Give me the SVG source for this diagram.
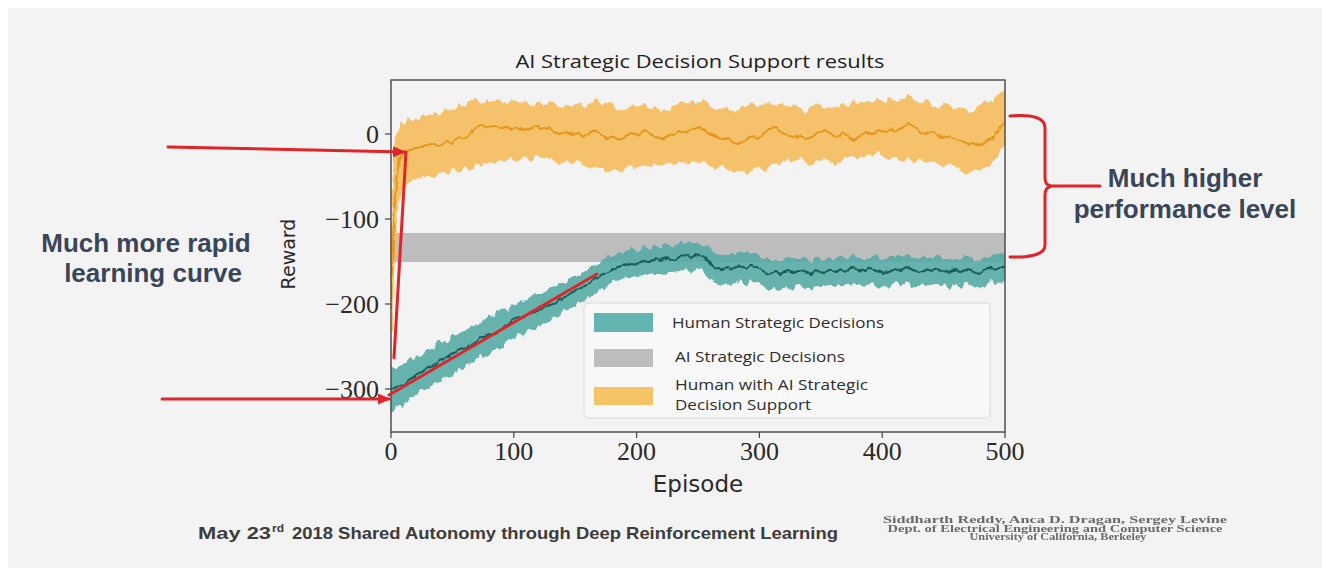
<svg xmlns="http://www.w3.org/2000/svg" width="1330" height="575" viewBox="0 0 1330 575">
  <style>
    .tick { font-family: "Liberation Serif", "DejaVu Serif", serif; font-size: 26px; fill: #2a2a2a; }
    .axlabel { font-family: "DejaVu Sans", sans-serif; fill: #2a2a2a; }
    .legtext { font-family: "Open Sans", "Liberation Sans", sans-serif; font-size: 14px; fill: #2e2e2e; }
    .note { font-family: "Liberation Sans", Arial, sans-serif; font-weight: bold; font-size: 26px; fill: #3a4558; text-anchor: middle; }
    .footer { font-family: "Liberation Sans Narrow", "Liberation Sans", Arial, sans-serif; font-weight: bold; fill: #3c3c3c; }
    .cite { font-family: "Liberation Serif", "Times New Roman", serif; font-weight: bold; font-size: 9.5px; fill: #6a6a6a; text-anchor: middle; }
    .red { stroke: #e02429; stroke-width: 3; fill: none; stroke-linecap: round; stroke-linejoin: round; }
    .tk { stroke: #444; stroke-width: 1.2; }
  </style>
  <defs>
    <marker id="redhead" markerUnits="userSpaceOnUse" markerWidth="13" markerHeight="11" refX="11" refY="5.5" orient="auto">
      <path d="M0,0 L13,5.5 L0,11 Z" fill="#e02429"/>
    </marker>
    <!-- roughens band edges and mean lines like noisy per-episode data -->
    <filter id="noisy" x="-2%" y="-10%" width="104%" height="120%">
      <feTurbulence type="fractalNoise" baseFrequency="0.16 0.06" numOctaves="2" seed="7" result="n"/>
      <feDisplacementMap in="SourceGraphic" in2="n" scale="8" xChannelSelector="R" yChannelSelector="G"/>
    </filter>
    <filter id="noisyline" x="-2%" y="-10%" width="104%" height="120%">
      <feTurbulence type="fractalNoise" baseFrequency="0.14 0.08" numOctaves="2" seed="3" result="n"/>
      <feDisplacementMap in="SourceGraphic" in2="n" scale="5" xChannelSelector="R" yChannelSelector="G"/>
    </filter>
    <filter id="soft">
      <feGaussianBlur stdDeviation="0.45"/>
    </filter>
    <clipPath id="axesclip">
      <rect x="391" y="80" width="614" height="352"/>
    </clipPath>
  </defs>

  <!-- page background -->
  <rect x="0" y="0" width="1330" height="575" fill="#ffffff"/>
  <rect x="8" y="8" width="1314" height="560" fill="#f3f3f3"/>

  <!-- chart title -->
  <text x="700" y="68" text-anchor="middle" font-family="Open Sans, Liberation Sans, sans-serif" font-size="18" fill="#222" textLength="369" lengthAdjust="spacingAndGlyphs">AI Strategic Decision Support results</text>

  <g id="plot">
    <g clip-path="url(#axesclip)">
      <!-- AI strategic decisions: constant band -->
      <rect x="391" y="233" width="614" height="29" fill="#bdbdbd"/>

      <!-- human strategic decisions: confidence band and mean -->
      <path filter="url(#noisy)" fill="#52aaa5" fill-opacity="0.88" d="M391,368 L397,368 403,364 409,362 415,357 421,356 427,350 433,349 439,341 445,342 451,336 457,335 463,330 469,329 475,324 481,322 487,317 493,317 499,311 505,310 511,304 517,303 523,301 529,298 535,294 541,294 547,289 553,289 559,283 565,283 571,277 577,276 583,271 589,270 595,264 601,263 607,257 613,257 619,252 625,252 631,248 637,251 643,246 649,250 655,244 661,248 667,243 673,248 679,242 685,242 691,243 697,241 703,244 709,247 715,254 721,255 727,254 733,254 739,253 745,253 751,253 757,253 763,259 769,260 775,260 781,260 787,259 793,258 799,258 805,258 811,262 817,257 823,261 829,256 835,260 841,255 847,259 853,254 859,258 865,258 871,257 877,256 883,261 889,256 895,256 901,256 907,255 913,256 919,259 925,254 931,259 937,254 943,259 949,259 955,258 961,258 967,257 973,257 979,262 985,256 991,256 997,254 1006,252 L1006,280 997,284 991,282 985,286 979,288 973,287 967,283 961,288 955,284 949,289 943,285 937,284 931,285 925,285 919,286 913,286 907,281 901,286 895,282 889,287 883,288 877,287 871,283 865,288 859,284 853,284 847,285 841,285 835,286 829,286 823,287 817,287 811,288 805,288 799,284 793,289 787,285 781,290 775,287 769,291 763,286 757,283 751,280 745,285 739,281 733,286 727,282 721,287 715,283 709,278 703,272 697,268 691,272 685,269 679,271 673,272 667,272 661,273 655,273 649,274 643,275 637,276 631,277 625,277 619,281 613,281 607,287 601,289 595,294 589,296 583,302 577,303 571,308 565,310 559,316 553,318 547,322 541,323 535,329 529,329 523,336 517,333 511,340 505,343 499,350 493,350 487,356 481,355 475,362 469,363 463,370 457,369 451,375 445,376 439,382 433,384 427,389 421,389 415,397 409,397 403,406 397,406 391,414 Z"/>
      <polyline filter="url(#noisyline)" fill="none" stroke="#175e5a" stroke-width="2" stroke-linejoin="round" points="391,390 397,386 403,384 409,379 415,376 421,372 427,369 433,366 439,361 445,359 451,355 457,351 463,349 469,346 475,343 481,338 487,336 493,334 499,331 505,327 511,322 517,318 523,319 529,314 535,312 541,309 547,306 553,304 559,300 565,297 571,293 577,290 583,287 589,283 595,279 601,276 607,272 613,269 619,267 625,265 631,263 637,264 643,261 649,262 655,259 661,261 667,258 673,260 679,257 685,256 691,258 697,255 703,257 709,262 715,268 721,270 727,267 733,269 739,266 745,268 751,265 757,267 763,271 769,274 775,272 781,274 787,271 793,273 799,270 805,272 811,274 817,271 823,273 829,270 835,272 841,269 847,271 853,268 859,270 865,272 871,269 877,271 883,274 889,271 895,268 901,270 907,267 913,270 919,272 925,269 931,271 937,268 943,271 949,273 955,270 961,272 967,269 973,271 979,274 985,270 991,268 997,269 1006,266"/>

      <!-- human with AI decision support: confidence band and mean -->
      <path filter="url(#noisy)" fill="#f5bd5c" fill-opacity="0.9" d="M391,230 L393,170 396,135 400,122 405,124 410,118 416,121 422,114 428,117 434,112 440,115 446,108 452,111 458,104 464,107 470,101 476,98 482,103 488,99 494,102 500,100 506,104 512,99 518,103 524,100 530,105 536,102 542,106 548,101 554,104 560,108 566,104 572,107 578,102 584,106 590,103 596,100 602,104 608,102 614,107 620,111 626,107 632,104 638,108 644,104 650,110 656,106 662,112 668,109 674,105 680,101 686,104 692,100 698,103 704,99 710,104 716,108 722,111 728,107 734,113 740,110 746,106 752,102 758,108 764,104 770,101 776,106 782,103 788,109 794,104 800,108 806,112 812,107 818,103 824,106 830,110 836,106 842,102 848,105 854,101 860,104 866,100 872,103 878,99 884,102 890,98 896,102 902,99 908,95 914,99 920,103 926,100 932,104 938,107 944,103 950,106 956,110 962,107 968,112 974,110 980,105 986,101 992,103 998,96 1006,88 L1006,145 998,155 992,163 986,168 980,172 974,169 968,173 962,170 956,167 950,163 944,167 938,164 932,160 926,163 920,159 914,162 908,158 902,161 896,157 890,160 884,156 878,153 872,157 866,154 860,158 854,155 848,158 842,161 836,165 830,162 824,158 818,161 812,165 806,162 800,159 794,163 788,160 782,165 776,162 770,166 764,170 758,167 752,171 746,174 740,170 734,173 728,170 722,166 716,169 710,166 704,162 698,165 692,161 686,164 680,161 674,165 668,162 662,166 656,163 650,167 644,164 638,168 632,165 626,168 620,172 614,169 608,173 602,170 596,166 590,169 584,166 578,162 572,165 566,161 560,164 554,161 548,157 542,159 536,156 530,160 524,157 518,161 512,158 506,163 500,160 494,164 488,162 482,167 476,165 470,170 464,168 458,172 452,170 446,175 440,173 434,178 428,176 422,180 416,178 410,181 405,185 400,195 396,230 393,300 391,360 Z"/>
      <polyline filter="url(#noisyline)" fill="none" stroke="#e5961a" stroke-width="2" stroke-linejoin="round" points="391,300 393,240 396,180 400,158 405,152 410,150 416,148 422,147 428,146 434,144 440,145 446,141 452,142 458,138 464,139 470,134 476,127 482,125 488,128 494,126 500,129 506,127 512,130 518,128 524,131 530,129 536,126 542,129 548,127 554,131 560,134 566,132 572,135 578,133 584,136 590,134 596,131 602,134 608,139 614,137 620,140 626,136 632,133 638,135 644,131 650,134 656,137 662,139 668,136 674,133 680,130 686,133 692,129 698,127 704,130 710,134 716,137 722,140 728,138 734,142 740,143 746,139 752,136 758,139 764,133 770,128 776,127 782,131 788,135 794,138 800,136 806,139 812,137 818,132 824,130 830,134 836,137 842,133 848,137 854,140 860,136 866,132 872,134 878,130 884,132 890,128 896,131 902,128 908,124 914,127 920,131 926,134 932,131 938,135 944,138 950,136 956,140 962,142 968,145 974,143 980,146 986,141 992,138 998,132 1006,118"/>
    </g>

    <!-- axes frame -->
    <rect x="391" y="80" width="614" height="352" fill="none" stroke="#454545" stroke-width="1.4"/>

    <!-- y ticks and labels -->
    <g class="tk">
      <line x1="385" y1="134" x2="391" y2="134"/>
      <line x1="385" y1="219" x2="391" y2="219"/>
      <line x1="385" y1="304" x2="391" y2="304"/>
      <line x1="385" y1="389" x2="391" y2="389"/>
    </g>
    <text class="tick" x="379" y="143" text-anchor="end">0</text>
    <text class="tick" x="379" y="228" text-anchor="end">−100</text>
    <text class="tick" x="379" y="313" text-anchor="end">−200</text>
    <text class="tick" x="379" y="398" text-anchor="end">−300</text>

    <!-- x ticks and labels -->
    <g class="tk">
      <line x1="391" y1="432" x2="391" y2="438"/>
      <line x1="513.8" y1="432" x2="513.8" y2="438"/>
      <line x1="636.6" y1="432" x2="636.6" y2="438"/>
      <line x1="759.4" y1="432" x2="759.4" y2="438"/>
      <line x1="882.2" y1="432" x2="882.2" y2="438"/>
      <line x1="1005" y1="432" x2="1005" y2="438"/>
    </g>
    <g class="tick" text-anchor="middle">
      <text x="391" y="460">0</text>
      <text x="513.8" y="460">100</text>
      <text x="636.6" y="460">200</text>
      <text x="759.4" y="460">300</text>
      <text x="882.2" y="460">400</text>
      <text x="1005" y="460">500</text>
    </g>

    <!-- axis titles -->
    <text class="axlabel" x="698" y="492" font-size="23" text-anchor="middle">Episode</text>
    <text class="axlabel" font-size="19" text-anchor="middle" transform="translate(295,254) rotate(-90)">Reward</text>
  </g>

  <g id="legend">
    <rect x="584" y="303" width="406" height="115" rx="4" fill="#f8f8f8" stroke="#dadada" stroke-width="1"/>
    <rect x="594" y="313" width="59" height="19" fill="#62b5b0"/>
    <rect x="594" y="349" width="59" height="18" fill="#bdbdbd"/>
    <rect x="594" y="387" width="59" height="18" fill="#f5c466"/>
    <text class="legtext" x="672" y="328" textLength="212" lengthAdjust="spacingAndGlyphs">Human Strategic Decisions</text>
    <text class="legtext" x="675" y="362" textLength="170" lengthAdjust="spacingAndGlyphs">AI Strategic Decisions</text>
    <text class="legtext" x="675" y="390" textLength="193" lengthAdjust="spacingAndGlyphs">Human with AI Strategic</text>
    <text class="legtext" x="675" y="410" textLength="136" lengthAdjust="spacingAndGlyphs">Decision Support</text>
  </g>

  <g id="note-rapid">
    <text class="note" x="146" y="252">Much more rapid</text>
    <text class="note" x="153" y="282">learning curve</text>
  </g>

  <g id="note-higher">
    <text class="note" x="1185" y="187">Much higher</text>
    <text class="note" x="1185" y="218">performance level</text>
  </g>

  <g id="connectors">
    <line class="red" x1="168" y1="147" x2="404" y2="152" marker-end="url(#redhead)"/>
    <line class="red" x1="162" y1="399" x2="389" y2="399" marker-end="url(#redhead)"/>
    <line class="red" x1="394" y1="358" x2="406" y2="152"/>
    <line class="red" x1="389" y1="395" x2="597" y2="274"/>
    <path class="red" d="M1010,116 Q1045,113 1045,128 L1045,178 Q1045,186 1052,186 Q1045,187 1045,195 L1045,245 Q1045,258 1010,257 M1052,186 L1100,186"/>
  </g>

  <g id="footer">
    <text class="footer" x="198" y="539" font-size="17" textLength="73" lengthAdjust="spacingAndGlyphs">May 23</text>
    <text class="footer" x="272" y="532" font-size="10" textLength="12" lengthAdjust="spacingAndGlyphs">rd</text>
    <text class="footer" x="292" y="539" font-size="17" textLength="546" lengthAdjust="spacingAndGlyphs">2018 Shared Autonomy through Deep Reinforcement Learning</text>
  </g>

  <g id="citation" filter="url(#soft)">
    <text class="cite" x="1055" y="523" textLength="344" lengthAdjust="spacingAndGlyphs">Siddharth Reddy, Anca D. Dragan, Sergey Levine</text>
    <text class="cite" x="1055" y="531.5" textLength="335" lengthAdjust="spacingAndGlyphs">Dept. of Electrical Engineering and Computer Science</text>
    <text class="cite" x="1058" y="540" textLength="177" lengthAdjust="spacingAndGlyphs">University of California, Berkeley</text>
  </g>
</svg>
